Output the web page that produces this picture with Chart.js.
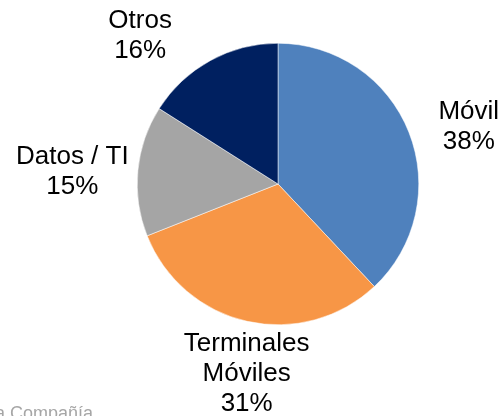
<!DOCTYPE html>
<html>
<head>
<meta charset="utf-8">
<script src="https://cdn.jsdelivr.net/npm/chart.js@4/dist/chart.umd.min.js"></script>
<style>
  html, body { margin: 0; padding: 0; background: #fff; }
  canvas { display: block; }
</style>
</head>
<body>
<canvas id="pie" width="501" height="416"></canvas>
<script>
const categories = ['Móvil', 'Terminales Móviles', 'Datos / TI', 'Otros'];
const labelLines = [['Móvil'], ['Terminales', 'Móviles'], ['Datos / TI'], ['Otros']];
const shares = [38, 31, 15, 16];
const sliceColors = ['#4F81BD', '#F79646', '#A5A5A5', '#002060'];

// where each label sits: distance from centre (x outer radius) and angle nudge in degrees
const labelPlacement = [
    { dist: 1.415, nudge: 4.9 },
    { dist: 1.364, nudge: -3.2 },
    { dist: 1.464, nudge: -1.9 },
    { dist: 1.436, nudge: -14.2 }
];

const sliceLabels = {
    id: 'sliceLabels',
    afterDatasetsDraw(chart) {
        const ctx = chart.ctx;
        const arcs = chart.getDatasetMeta(0).data;
        const lineH = 30;
        ctx.save();
        ctx.font = '26px "Liberation Sans", Arial, sans-serif';
        ctx.fillStyle = '#000';
        ctx.textAlign = 'center';
        ctx.textBaseline = 'middle';
        arcs.forEach((arc, i) => {
            const p = labelPlacement[i];
            const mid = (arc.startAngle + arc.endAngle) / 2 + p.nudge * Math.PI / 180;
            const r = arc.outerRadius * p.dist;
            const cx = arc.x + Math.cos(mid) * r;
            const cy = arc.y + Math.sin(mid) * r;
            const lines = labelLines[i].concat([shares[i] + '%']);
            lines.forEach((t, j) => {
                ctx.fillText(t, cx, cy + (j - (lines.length - 1) / 2) * lineH);
            });
        });
        // source note, bottom left
        ctx.font = '18px "Liberation Sans", Arial, sans-serif';
        ctx.fillStyle = '#A6A6A6';
        ctx.textAlign = 'right';
        ctx.textBaseline = 'alphabetic';
        ctx.fillText('Fuente: la Compañía', 93, 419);
        ctx.restore();
    }
};

new Chart(document.getElementById('pie'), {
    type: 'pie',
    data: {
        labels: categories,
        datasets: [{
            data: shares,
            backgroundColor: sliceColors,
            borderColor: '#ffffff',
            borderWidth: 0.5
        }]
    },
    options: {
        responsive: false,
        animation: false,
        layout: {
            padding: { left: 137, right: 82, top: 43, bottom: 91 }
        },
        plugins: {
            legend: { display: false },
            tooltip: { enabled: false }
        }
    },
    plugins: [sliceLabels]
});
</script>
</body>
</html>
